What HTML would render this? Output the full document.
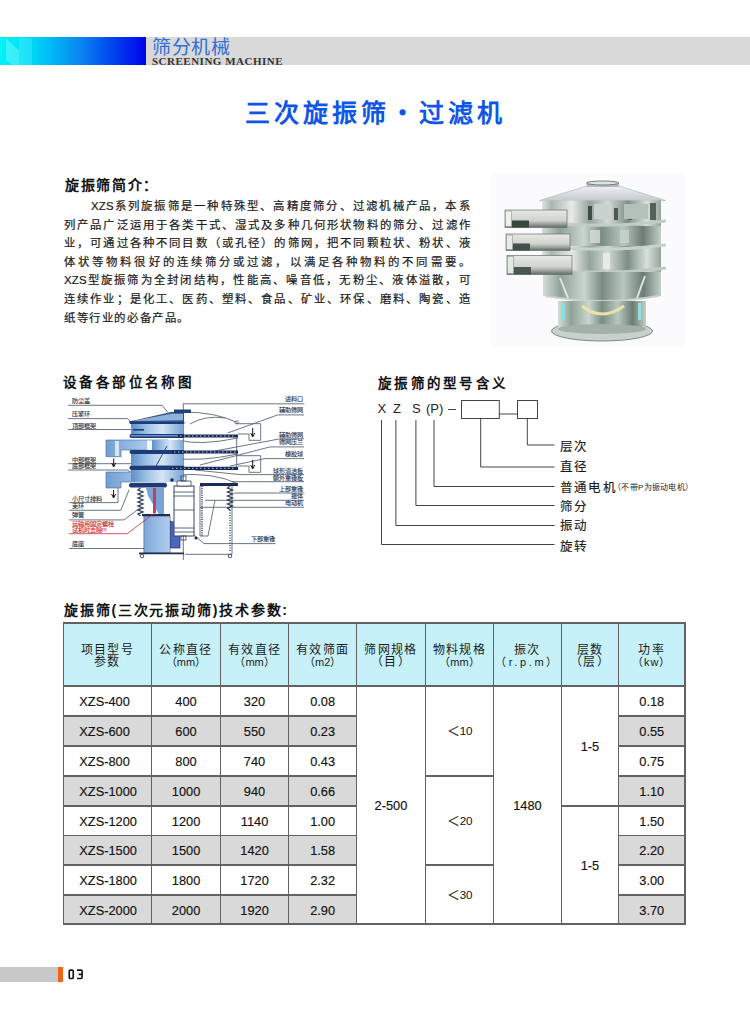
<!DOCTYPE html>
<html lang="zh-CN">
<head>
<meta charset="utf-8">
<style>
html,body{margin:0;padding:0;background:#fff;}
body{width:750px;height:1024px;position:relative;overflow:hidden;font-family:"Liberation Sans",sans-serif;color:#222;}
.abs{position:absolute;}
#hdr-grad{left:0;top:37px;width:147px;height:28px;background:linear-gradient(90deg,#00f2f8 0%,#00e4f8 15%,#00d0f8 25%,#00acf6 40%,#0a84f2 55%,#0048f0 75%,#0000ec 100%);}
#hdr-gray{left:146px;top:37px;width:604px;height:28px;background:#d9d9d9;}
#hdr-cn{left:152px;top:37px;font-size:19px;color:#2f6ed8;letter-spacing:0.5px;white-space:nowrap;line-height:22px;}
#hdr-en{left:152px;top:56px;font-family:"Liberation Serif",serif;font-size:11px;font-weight:bold;color:#333;letter-spacing:0.5px;white-space:nowrap;line-height:10px;}
#title{left:245px;top:98px;font-size:25px;font-weight:bold;color:#0f56e8;letter-spacing:4px;white-space:nowrap;line-height:30px;}
.h2{font-size:13px;font-weight:bold;color:#111;white-space:nowrap;line-height:16px;}
#intro-h{left:65px;top:176.5px;letter-spacing:1.7px;font-size:14px;}
.para{left:64px;width:407px;font-size:11.4px;line-height:18.6px;color:#1a1a1a;letter-spacing:1.3px;-webkit-text-stroke:0.2px #1a1a1a;}
.para div{text-align:justify;text-align-last:justify;white-space:nowrap;height:18.6px;}
.td{display:flex;align-items:center;justify-content:center;font-size:12.8px;color:#111;white-space:nowrap;padding-top:1px;box-sizing:border-box;-webkit-text-stroke:0.15px #111;}
.th{display:flex;align-items:center;justify-content:center;font-size:12px;line-height:12.3px;color:#1a1a1a;letter-spacing:1.3px;text-align:center;white-space:nowrap;padding-top:3px;box-sizing:border-box;}
.ln{background:#626262;}
.c1{justify-content:flex-start;padding-left:16px;}
.sm{font-size:11px;letter-spacing:0;}
#ftr-gray{left:0;top:967px;width:58px;height:15px;background:#c8c8cb;}
#ftr-or{left:57.5px;top:966.5px;width:5.5px;height:15.5px;background:#f26412;}
#ftr-num{left:68px;top:965px;font-size:14px;font-weight:bold;color:#222;line-height:18px;}
</style>
</head>
<body>
<div id="hdr-grad" class="abs"></div>
<div id="hdr-gray" class="abs"></div>
<svg class="abs" style="left:0;top:37px" width="40" height="28" viewBox="0 37 40 28"><path d="M6 38 L12 44 L19 50 L19 65 L12 65 L6 60 Z" fill="#fff" opacity="0.22"/><rect x="19" y="38" width="13" height="27" fill="#fff" opacity="0.12"/></svg>
<div id="hdr-cn" class="abs">筛分机械</div>
<div id="hdr-en" class="abs">SCREENING MACHINE</div>
<div id="title" class="abs">三次旋振筛<span style="display:inline-block;width:29px;text-align:center;letter-spacing:0;position:relative;left:-2px">・</span>过滤机</div>

<div id="intro-h" class="abs h2">旋振筛简介：</div>
<div class="abs para" style="top:197px;">
<div style="padding-left:27px"><span style="letter-spacing:0.2px">XZS</span>系列旋振筛是一种特殊型、高精度筛分、过滤机械产品，本系</div>
<div>列产品广泛运用于各类干式、湿式及多种几何形状物料的筛分、过滤作</div>
<div>业，可通过各种不同目数（或孔径）的筛网，把不同颗粒状、粉状、液</div>
<div>体状等物料很好的连续筛分或过滤，以满足各种物料的不同需要。</div>
<div><span style="letter-spacing:0.2px">XZS</span>型旋振筛为全封闭结构，性能高、噪音低，无粉尘、液体溢散，可</div>
<div>连续作业；是化工、医药、塑料、食品、矿业、环保、磨料、陶瓷、造</div>
<div style="text-align-last:left;letter-spacing:1.6px">纸等行业的必备产品。</div>
</div>


<div class="abs" style="left:491px;top:173px;width:195px;height:174px;background:#fbfafd;"></div>
<svg class="abs" style="left:490px;top:173px" width="196" height="174" viewBox="490 173 196 174">
<defs>
<linearGradient id="met" x1="0" x2="1" y1="0" y2="0">
<stop offset="0" stop-color="#dfe5e2"/><stop offset="0.08" stop-color="#a9b6af"/><stop offset="0.25" stop-color="#e6ebe8"/><stop offset="0.4" stop-color="#94a49b"/><stop offset="0.55" stop-color="#d2dbd6"/><stop offset="0.72" stop-color="#7d8f85"/><stop offset="0.88" stop-color="#d8e0dc"/><stop offset="1" stop-color="#95a49c"/>
</linearGradient>
<linearGradient id="met2" x1="0" x2="1" y1="0" y2="0">
<stop offset="0" stop-color="#d4ddd8"/><stop offset="0.15" stop-color="#8fa297"/><stop offset="0.35" stop-color="#cad6cf"/><stop offset="0.5" stop-color="#7a8d82"/><stop offset="0.68" stop-color="#b8c7bf"/><stop offset="0.85" stop-color="#6b7d73"/><stop offset="1" stop-color="#c4d0c9"/>
</linearGradient>
<linearGradient id="lid" x1="0" x2="0" y1="0" y2="1">
<stop offset="0" stop-color="#eef1f3"/><stop offset="1" stop-color="#c4cacd"/>
</linearGradient>
<linearGradient id="arm" x1="0" x2="0" y1="0" y2="1">
<stop offset="0" stop-color="#e6e8e4"/><stop offset="0.6" stop-color="#cfd3cd"/><stop offset="0.8" stop-color="#9aa39c"/><stop offset="1" stop-color="#5e6a62"/>
</linearGradient>
</defs>
<!-- lid -->
<path d="M539.6 200.5 L587 186 L619 186 L665.6 200.5 Z" fill="url(#lid)" stroke="#a8b0b4" stroke-width="0.6"/>
<rect x="586.5" y="182.5" width="32.5" height="4.5" fill="#b4bcc0"/>
<ellipse cx="602.7" cy="183" rx="16.2" ry="2" fill="#dde2e4" stroke="#6a7478" stroke-width="0.9"/>
<!-- upper body -->
<rect x="542" y="200.5" width="119" height="72" fill="url(#met)"/>
<rect x="588" y="206" width="4" height="14" fill="#3f4c45"/>
<rect x="614" y="208" width="4" height="12" fill="#4c5a52"/><rect x="628" y="210" width="4" height="10" fill="#4c5a52"/>
<rect x="650" y="203" width="6" height="17" fill="#55625b"/>
<rect x="594" y="204" width="18" height="15" fill="#c9d2ce"/>
<rect x="624" y="204" width="24" height="15" fill="#b4c0ba"/>
<rect x="542" y="226" width="119" height="20" fill="url(#met2)"/>
<rect x="590" y="230" width="10" height="13" fill="#d6ddd9" opacity="0.8"/>
<rect x="620" y="230" width="9" height="13" fill="#cdd6d1" opacity="0.7"/>
<rect x="603" y="253" width="7" height="16" fill="#e8eeea" opacity="0.9"/>
<path d="M540 222 Q603 229 666 221" fill="none" stroke="#c2ccc7" stroke-width="2.8"/>
<path d="M540 246 Q603 253 666 245" fill="none" stroke="#c8d2cd" stroke-width="2.8"/>
<path d="M540 269 Q603 276 666 268" fill="none" stroke="#c0cbc5" stroke-width="2.8"/>
<!-- lower body -->
<path d="M543 272 L661 272 L661 296 Q602 306 543 296 Z" fill="url(#met2)"/>
<path d="M546 296 Q602 306 658 296" fill="none" stroke="#c7d0cb" stroke-width="2"/>
<path d="M560 278 L568 298" stroke="#dde6e1" stroke-width="2"/>
<path d="M645 276 L637 298" stroke="#dce4e0" stroke-width="2"/>
<!-- base -->
<ellipse cx="602" cy="331" rx="50.5" ry="10" fill="#c9d1cd" stroke="#7d8a83" stroke-width="1"/>
<rect x="558" y="301" width="88" height="28" fill="url(#met2)"/>
<ellipse cx="602" cy="329" rx="44" ry="5" fill="#a2b0a8"/>
<path d="M582 306 Q602 322 624 306" fill="none" stroke="#ece2a8" stroke-width="3"/>
<rect x="562" y="303" width="3" height="17" fill="#84e2e2" opacity="0.85"/>
<rect x="638" y="303" width="3" height="17" fill="#94e8e8" opacity="0.85"/>
<!-- arms (front) -->
<rect x="505" y="210" width="62" height="17.5" fill="url(#arm)" stroke="#6a746e" stroke-width="0.7"/>
<rect x="505.5" y="211" width="6" height="15.5" fill="#eef0ec" stroke="#7b847e" stroke-width="0.5"/>
<rect x="512" y="220.5" width="17" height="7" fill="#3a4640"/>
<rect x="506" y="234" width="64" height="16.5" fill="url(#arm)" stroke="#6a746e" stroke-width="0.7"/>
<rect x="506.5" y="235" width="6" height="14.5" fill="#e8ebe8" stroke="#7b847e" stroke-width="0.5"/>
<rect x="513" y="243.5" width="17" height="7" fill="#44504a"/>
<rect x="507" y="255.5" width="65" height="19" fill="url(#arm)" stroke="#6a746e" stroke-width="0.7"/>
<rect x="507.5" y="256.5" width="6" height="17" fill="#e4e8e4" stroke="#7b847e" stroke-width="0.5"/>
<rect x="514" y="267" width="17" height="7.5" fill="#4a564f"/>
</svg>


<div class="abs h2" style="left:63px;top:375px;letter-spacing:3.4px;font-size:13.5px;">设备各部位名称图</div>
<svg class="abs" style="left:60px;top:392px" width="260" height="172" viewBox="60 392 260 172">
<defs>
<linearGradient id="bl" x1="0" x2="1" y1="0" y2="0">
<stop offset="0" stop-color="#5f8fc8"/><stop offset="0.35" stop-color="#a8c8ea"/><stop offset="0.6" stop-color="#d6e6f6"/><stop offset="1" stop-color="#7aa6d6"/>
</linearGradient>
<linearGradient id="bl2" x1="0" x2="1" y1="0" y2="0">
<stop offset="0" stop-color="#6f9ed4"/><stop offset="0.5" stop-color="#9fc0e6"/><stop offset="1" stop-color="#c6dcf2"/>
</linearGradient>
</defs>
<g fill="none" stroke="#5a6678" stroke-width="0.9">
<!-- left leader lines -->
<path d="M68 405.3 H162 L168 412.5"/>
<path d="M68 418.6 H127.6 L131 422"/>
<path d="M68 429.5 H143"/>
<path d="M68 463.7 H133"/>
<path d="M68 470 H127.6 L133 474"/>
<path d="M69 502.6 H118 V483"/>
<path d="M69 510.3 H120.8 L129 490"/>
<path d="M69 519.9 H124 L140 508"/>
<path d="M69 548.5 H151"/>
<!-- right leader lines -->
<path d="M183.3 403.8 H304.4"/>
<path d="M304 414.9 H277.7 L227.6 433"/>
<path d="M304 438.8 H280 L215 451"/>
<path d="M304 446.9 H270 L200 465"/>
<path d="M304 458.6 H265 L230 466"/>
<path d="M304 474.6 H240 L195 470"/>
<path d="M304 481.7 H232"/>
<path d="M304.4 493 H234"/>
<path d="M304 500.3 H205"/>
<path d="M304 507.3 H200"/>
<path d="M275.6 543.6 H204 L194 535"/>
<!-- axis -->
<path d="M183.3 403.3 V560" stroke-width="0.9"/>
<!-- dome -->
<path d="M183 412 Q215 412 236.7 422.3" />
<path d="M190 424 Q205 415 225 418"/>
<!-- right boxes -->
<path d="M236 423.7 H260.7 V440.3 H249 V434 H238"/>
<path d="M236 455.7 H260.7 V472.3 H249 V466 H238"/>
<path d="M236.7 438 V470"/>
<!-- curves inside -->
<path d="M178 440 Q200 446 238 438"/>
<path d="M172 458 Q200 462 238 454"/>
<path d="M175 475 Q215 472 238 484"/>
<!-- bracket right -->
<path d="M200 486 V536 L208 536 L215 500"/>
<path d="M232 484 V554"/>
<path d="M185 554.3 H232"/>
</g>
<circle cx="236.7" cy="422.3" r="1.6" fill="none" stroke="#3c4a60" stroke-width="0.7"/>
<!-- arrows in boxes -->
<path d="M252.7 428 V436 M250.7 433 L252.7 437 L254.7 433" stroke="#111" stroke-width="1" fill="none"/>
<path d="M252.7 460 V468 M250.7 465 L252.7 469 L254.7 465" stroke="#111" stroke-width="1" fill="none"/>
<path d="M113.7 458.5 V466 M111.7 463 L113.7 467 L115.7 463" stroke="#111" stroke-width="1" fill="none"/>
<path d="M113.6 490 V497 M111.6 494 L113.6 498 L115.6 494" stroke="#111" stroke-width="1" fill="none"/>
<!-- lid -->
<path d="M129.3 422 L171 412.5 L183.3 412.5 L183.3 423 Z" fill="#4a6fa8" stroke="#1e3460" stroke-width="0.8"/>
<path d="M132 421 L171 414 L183 414 L183 420 Z" fill="#8fb2dc"/>
<rect x="174" y="409.5" width="17" height="3.5" fill="#21407a"/>
<!-- top frame -->
<rect x="131" y="423" width="52" height="11.5" fill="url(#bl)"/>
<rect x="129.5" y="421.5" width="55" height="2.5" fill="#1e3a78" rx="1"/>
<rect x="129.5" y="434" width="55" height="4" fill="#1e3a78" rx="2"/>
<rect x="131" y="435" width="52" height="1.5" fill="#6a92c8"/>
<!-- upper spout -->
<path d="M106 440 H168 V450 H121 V456.7 H106 Z" fill="url(#bl2)" stroke="#456a9c" stroke-width="0.6"/>
<rect x="115" y="441" width="4" height="15" fill="#e8f0f8" opacity="0.85"/><rect x="147" y="440.5" width="5" height="9.5" fill="#f4f8fc"/>
<!-- mid frame -->
<rect x="131" y="454" width="52" height="11.5" fill="url(#bl)"/>
<rect x="129.5" y="450" width="55" height="4" fill="#1e3a78" rx="2"/>
<rect x="129.5" y="465.4" width="55" height="4.5" fill="#1e3a78" rx="2"/>
<rect x="152" y="440" width="31" height="10" fill="url(#bl)"/><path d="M167 446 L156 466" stroke="#1e3a78" stroke-width="0.9"/><rect x="133" y="429" width="11" height="1.6" fill="#1e3a78"/>
<!-- lower spout -->
<path d="M106 472 H166 V482 H121 V488 H106 Z" fill="url(#bl2)" stroke="#456a9c" stroke-width="0.6"/>
<rect x="131" y="470" width="52" height="12" fill="url(#bl)"/>
<rect x="129" y="483" width="38" height="4.5" fill="#1e3a78" rx="2"/>
<!-- screens right -->
<g stroke="#142a58" stroke-width="3.2">
<path d="M178 436 H238"/><path d="M172 452 H238"/><path d="M170 468.3 H238"/>
<path d="M200 485 H238" stroke-width="2"/>
</g>
<g stroke="#c8d8ee" stroke-width="0.9" stroke-dasharray="1.5 2.5">
<path d="M180 436 H236"/><path d="M174 452 H236"/><path d="M172 468.3 H236"/>
</g>
<!-- springs -->
<path d="M140.5 488 l-2.5 2 l5 2 l-5 2 l5 2 l-5 2 l5 2 l-5 2 l5 2 l-5 2 l5 2 l-5 2 l5 2 l-5 2 l2.5 2" fill="none" stroke="#2b3a55" stroke-width="1.3"/>
<path d="M230 486 l-2.5 2 l5 2 l-5 2 l5 2 l-5 2 l5 2 l-5 2 l5 2 l-5 2 l5 2 l-5 2 l2.5 2" fill="none" stroke="#2b3a55" stroke-width="1.3"/>
<path d="M202 486 V536" stroke="#2b3a55" stroke-width="1.6" stroke-dasharray="1 1.2"/>
<path d="M230 510 V552" stroke="#2b3a55" stroke-width="1.4" stroke-dasharray="1 1.5"/>
<!-- inner pipe -->
<path d="M146 488 H164 V516 H160 L148 496 Z" fill="#7aa4d6"/>
<rect x="153" y="488" width="3" height="25" fill="#c04060"/>
<!-- base -->
<rect x="144" y="516" width="26" height="37" fill="#8fb4e0" stroke="#2b3a55" stroke-width="0.7"/>
<rect x="144" y="516" width="26" height="37" fill="url(#bl2)" opacity="0.6"/>
<path d="M170.5 521 L176 523 V530 L180 536 V548 L170.5 548 Z" fill="#4a66c0" stroke="#1e2e70" stroke-width="0.7"/>
<rect x="142" y="514" width="28" height="2.2" fill="#1e2e50"/>
<path d="M139 553.3 H184" stroke="#1e2e50" stroke-width="1.8"/>
<circle cx="142" cy="556" r="1.8" fill="none" stroke="#1e2e50" stroke-width="0.8"/>
<circle cx="230" cy="556" r="1.8" fill="none" stroke="#1e2e50" stroke-width="0.8"/>
<!-- motor -->
<rect x="174" y="486" width="20" height="50" fill="#fff" stroke="#34445e" stroke-width="1"/>
<path d="M174 492 H194 M174 496 H194 M174 510 H194 M174 528 H194 M174 532 H194" stroke="#34445e" stroke-width="0.8"/>
<path d="M177 481 H191 V486 H177 Z" fill="#fff" stroke="#34445e" stroke-width="0.8"/>
<rect x="181" y="476" width="5" height="5" fill="none" stroke="#34445e" stroke-width="0.8"/>
<rect x="181" y="536" width="5" height="4" fill="none" stroke="#34445e" stroke-width="0.8"/>
<circle cx="172" cy="480" r="1.8" fill="#1e2e50"/>
<circle cx="196" cy="538" r="1.6" fill="#1e2e50"/>
<path d="M200 484 H238" stroke="#1e2e50" stroke-width="2"/>
<!-- red leader -->
<path d="M69 533.7 H127.2 L155 512.7" fill="none" stroke="#c03040" stroke-width="0.8"/>
<!-- labels -->
<g font-size="6.2" fill="#2c3548" font-family="Liberation Sans, sans-serif" stroke="#2c3548" stroke-width="0.12">
<text x="71.5" y="403.1">防尘盖</text>
<text x="71.5" y="416.1">压紧环</text>
<text x="71.5" y="428.0">顶部框架</text>
<text x="71.5" y="461.8">中部框架</text>
<text x="71.5" y="468.0">底部框架</text>
<text x="71.5" y="500.9">小尺寸排料</text>
<text x="71.5" y="507.9">束环</text>
<text x="71.5" y="516.9">弹簧</text>
<text x="71.5" y="545.7">底座</text>
<text x="302.5" y="400.8" text-anchor="end">进料口</text>
<text x="302.5" y="411.9" text-anchor="end">辅助筛网</text>
<text x="302.5" y="436.5" text-anchor="end">辅助筛网</text>
<text x="302.5" y="443.9" text-anchor="end">筛网压兰</text>
<text x="302.5" y="455.7" text-anchor="end">橡胶球</text>
<text x="302.5" y="472.8" text-anchor="end">球形清洁板</text>
<text x="302.5" y="479.9" text-anchor="end">额外重锤板</text>
<text x="302.5" y="490.5" text-anchor="end">上部重锤</text>
<text x="302.5" y="498.0" text-anchor="end">振体</text>
<text x="302.5" y="505.0" text-anchor="end">电动机</text>
<text x="275" y="540.7" text-anchor="end">下部重锤</text>
</g>
<g font-size="6.2" fill="#d02030" font-family="Liberation Sans, sans-serif" stroke="#d02030" stroke-width="0.12">
<text x="71.5" y="526">运输用固定螺栓</text>
<text x="71.5" y="532">试机时去除!!!</text>
</g>
</svg>


<div class="abs h2" style="left:378px;top:376px;letter-spacing:3.3px;font-size:13.5px;">旋振筛的型号含义</div>
<svg class="abs" style="left:370px;top:395px" width="330" height="160" viewBox="370 395 330 160">
<g font-family="Liberation Sans, sans-serif" font-size="13" fill="#222">
<text x="377.5" y="412.7">X</text>
<text x="393" y="412.7">Z</text>
<text x="412" y="412.7">S</text>
<text x="426" y="412.7">(P)</text>
</g>
<g fill="none" stroke="#444" stroke-width="1">
<path d="M448 409.5 H456"/>
<rect x="461.5" y="400.5" width="37.8" height="18"/>
<rect x="517.5" y="400.5" width="20" height="18"/>
<path d="M499.3 414 H517.5"/>
<path d="M527.3 418.5 V445 H554.5"/>
<path d="M480.7 418.5 V467 H554.5"/>
<path d="M434 420 V486.5 H554.5"/>
<path d="M415.9 420 V505.5 H554.5"/>
<path d="M395.9 420 V525.5 H554.5"/>
<path d="M381.5 420 V544.5 H554.5"/>
</g>
<g font-family="Liberation Sans, sans-serif" font-size="12.5" fill="#1a1a1a" letter-spacing="1.4" stroke="#1a1a1a" stroke-width="0.15">
<text x="559.5" y="450.5">层次</text>
<text x="559.5" y="471.3">直径</text>
<text x="559.5" y="491.7">普通电机</text>
<text x="559.5" y="511.3">筛分</text>
<text x="559.5" y="530.2">振动</text>
<text x="559.5" y="551.2">旋转</text>
</g>
<text x="613" y="490" font-family="Liberation Sans, sans-serif" font-size="8" fill="#222" letter-spacing="0.3">（不带P为振动电机）</text>
</svg>

<div class="abs h2" style="left:64px;top:602px;font-size:14px;letter-spacing:1.8px;">旋振筛(三次元振动筛)技术参数:</div>
<div class="abs" style="left:63.3px;top:623px;width:621.7px;height:63px;background:#c6f1f8;"></div>
<div class="abs" style="left:63.3px;top:716.0px;width:293.3px;height:30.0px;background:#d9d9d9;"></div>
<div class="abs" style="left:618.5px;top:716.0px;width:66.5px;height:30.0px;background:#d9d9d9;"></div>
<div class="abs" style="left:63.3px;top:776.0px;width:293.3px;height:30.0px;background:#d9d9d9;"></div>
<div class="abs" style="left:618.5px;top:776.0px;width:66.5px;height:30.0px;background:#d9d9d9;"></div>
<div class="abs" style="left:63.3px;top:835.5px;width:293.3px;height:29.5px;background:#d9d9d9;"></div>
<div class="abs" style="left:618.5px;top:835.5px;width:66.5px;height:29.5px;background:#d9d9d9;"></div>
<div class="abs" style="left:63.3px;top:895.0px;width:293.3px;height:29.0px;background:#d9d9d9;"></div>
<div class="abs" style="left:618.5px;top:895.0px;width:66.5px;height:29.0px;background:#d9d9d9;"></div>
<div class="abs th" style="left:63.3px;top:623.0px;width:88.4px;height:63.0px;"><span>项目型号<br>参数</span></div>
<div class="abs th" style="left:151.7px;top:623.0px;width:68.7px;height:63.0px;"><span>公称直径<br><span class="sm">（mm）</span></span></div>
<div class="abs th" style="left:220.4px;top:623.0px;width:68.3px;height:63.0px;"><span>有效直径<br><span class="sm">（mm）</span></span></div>
<div class="abs th" style="left:288.7px;top:623.0px;width:67.9px;height:63.0px;"><span>有效筛面<br><span class="sm">（m2）</span></span></div>
<div class="abs th" style="left:356.6px;top:623.0px;width:68.7px;height:63.0px;"><span>筛网规格<br>（目）</span></div>
<div class="abs th" style="left:425.3px;top:623.0px;width:68.3px;height:63.0px;"><span>物料规格<br><span class="sm">（mm）</span></span></div>
<div class="abs th" style="left:493.6px;top:623.0px;width:67.7px;height:63.0px;"><span>振次<br><span class="sm" style="letter-spacing:2.6px">（r.p.m）</span></span></div>
<div class="abs th" style="left:561.3px;top:623.0px;width:57.2px;height:63.0px;"><span>层数<br>（层）</span></div>
<div class="abs th" style="left:618.5px;top:623.0px;width:66.5px;height:63.0px;"><span>功率<br><span class="sm" style="letter-spacing:1px">（kw）</span></span></div>
<div class="abs td c1" style="left:63.3px;top:686.0px;width:88.4px;height:30.0px;">XZS-400</div>
<div class="abs td" style="left:151.7px;top:686.0px;width:68.7px;height:30.0px;">400</div>
<div class="abs td" style="left:220.4px;top:686.0px;width:68.3px;height:30.0px;">320</div>
<div class="abs td" style="left:288.7px;top:686.0px;width:67.9px;height:30.0px;">0.08</div>
<div class="abs td" style="left:618.5px;top:686.0px;width:66.5px;height:30.0px;">0.18</div>
<div class="abs td c1" style="left:63.3px;top:716.0px;width:88.4px;height:30.0px;">XZS-600</div>
<div class="abs td" style="left:151.7px;top:716.0px;width:68.7px;height:30.0px;">600</div>
<div class="abs td" style="left:220.4px;top:716.0px;width:68.3px;height:30.0px;">550</div>
<div class="abs td" style="left:288.7px;top:716.0px;width:67.9px;height:30.0px;">0.23</div>
<div class="abs td" style="left:618.5px;top:716.0px;width:66.5px;height:30.0px;">0.55</div>
<div class="abs td c1" style="left:63.3px;top:746.0px;width:88.4px;height:30.0px;">XZS-800</div>
<div class="abs td" style="left:151.7px;top:746.0px;width:68.7px;height:30.0px;">800</div>
<div class="abs td" style="left:220.4px;top:746.0px;width:68.3px;height:30.0px;">740</div>
<div class="abs td" style="left:288.7px;top:746.0px;width:67.9px;height:30.0px;">0.43</div>
<div class="abs td" style="left:618.5px;top:746.0px;width:66.5px;height:30.0px;">0.75</div>
<div class="abs td c1" style="left:63.3px;top:776.0px;width:88.4px;height:30.0px;">XZS-1000</div>
<div class="abs td" style="left:151.7px;top:776.0px;width:68.7px;height:30.0px;">1000</div>
<div class="abs td" style="left:220.4px;top:776.0px;width:68.3px;height:30.0px;">940</div>
<div class="abs td" style="left:288.7px;top:776.0px;width:67.9px;height:30.0px;">0.66</div>
<div class="abs td" style="left:618.5px;top:776.0px;width:66.5px;height:30.0px;">1.10</div>
<div class="abs td c1" style="left:63.3px;top:806.0px;width:88.4px;height:29.5px;">XZS-1200</div>
<div class="abs td" style="left:151.7px;top:806.0px;width:68.7px;height:29.5px;">1200</div>
<div class="abs td" style="left:220.4px;top:806.0px;width:68.3px;height:29.5px;">1140</div>
<div class="abs td" style="left:288.7px;top:806.0px;width:67.9px;height:29.5px;">1.00</div>
<div class="abs td" style="left:618.5px;top:806.0px;width:66.5px;height:29.5px;">1.50</div>
<div class="abs td c1" style="left:63.3px;top:835.5px;width:88.4px;height:29.5px;">XZS-1500</div>
<div class="abs td" style="left:151.7px;top:835.5px;width:68.7px;height:29.5px;">1500</div>
<div class="abs td" style="left:220.4px;top:835.5px;width:68.3px;height:29.5px;">1420</div>
<div class="abs td" style="left:288.7px;top:835.5px;width:67.9px;height:29.5px;">1.58</div>
<div class="abs td" style="left:618.5px;top:835.5px;width:66.5px;height:29.5px;">2.20</div>
<div class="abs td c1" style="left:63.3px;top:865.0px;width:88.4px;height:30.0px;">XZS-1800</div>
<div class="abs td" style="left:151.7px;top:865.0px;width:68.7px;height:30.0px;">1800</div>
<div class="abs td" style="left:220.4px;top:865.0px;width:68.3px;height:30.0px;">1720</div>
<div class="abs td" style="left:288.7px;top:865.0px;width:67.9px;height:30.0px;">2.32</div>
<div class="abs td" style="left:618.5px;top:865.0px;width:66.5px;height:30.0px;">3.00</div>
<div class="abs td c1" style="left:63.3px;top:895.0px;width:88.4px;height:29.0px;">XZS-2000</div>
<div class="abs td" style="left:151.7px;top:895.0px;width:68.7px;height:29.0px;">2000</div>
<div class="abs td" style="left:220.4px;top:895.0px;width:68.3px;height:29.0px;">1920</div>
<div class="abs td" style="left:288.7px;top:895.0px;width:67.9px;height:29.0px;">2.90</div>
<div class="abs td" style="left:618.5px;top:895.0px;width:66.5px;height:29.0px;">3.70</div>
<div class="abs td" style="left:356.6px;top:686.0px;width:68.7px;height:238.0px;">2-500</div>
<div class="abs td" style="left:425.3px;top:686.0px;width:68.3px;height:90.0px;"><span style="position:relative;top:-2px">＜<span style="font-size:11.6px;letter-spacing:-0.3px;-webkit-text-stroke:0">10</span></span></div>
<div class="abs td" style="left:425.3px;top:776.0px;width:68.3px;height:89.0px;"><span style="position:relative;top:-2px">＜<span style="font-size:11.6px;letter-spacing:-0.3px;-webkit-text-stroke:0">20</span></span></div>
<div class="abs td" style="left:425.3px;top:865.0px;width:68.3px;height:59.0px;"><span style="position:relative;top:-2px">＜<span style="font-size:11.6px;letter-spacing:-0.3px;-webkit-text-stroke:0">30</span></span></div>
<div class="abs td" style="left:493.6px;top:686.0px;width:67.7px;height:238.0px;">1480</div>
<div class="abs td" style="left:561.3px;top:686.0px;width:57.2px;height:120.0px;">1-5</div>
<div class="abs td" style="left:561.3px;top:806.0px;width:57.2px;height:118.0px;">1-5</div>
<div class="abs ln" style="left:62.75px;top:622.45px;width:1.1px;height:302.1px;"></div>
<div class="abs ln" style="left:151.15px;top:622.45px;width:1.1px;height:302.1px;"></div>
<div class="abs ln" style="left:219.85px;top:622.45px;width:1.1px;height:302.1px;"></div>
<div class="abs ln" style="left:288.15px;top:622.45px;width:1.1px;height:302.1px;"></div>
<div class="abs ln" style="left:356.05px;top:622.45px;width:1.1px;height:302.1px;"></div>
<div class="abs ln" style="left:424.75px;top:622.45px;width:1.1px;height:302.1px;"></div>
<div class="abs ln" style="left:493.05px;top:622.45px;width:1.1px;height:302.1px;"></div>
<div class="abs ln" style="left:560.75px;top:622.45px;width:1.1px;height:302.1px;"></div>
<div class="abs ln" style="left:617.95px;top:622.45px;width:1.1px;height:302.1px;"></div>
<div class="abs ln" style="left:684.45px;top:622.45px;width:1.1px;height:302.1px;"></div>
<div class="abs ln" style="left:62.75px;top:622.45px;width:622.8px;height:1.1px;"></div>
<div class="abs ln" style="left:62.75px;top:685.45px;width:622.8px;height:1.1px;"></div>
<div class="abs ln" style="left:62.75px;top:923.45px;width:622.8px;height:1.1px;"></div>
<div class="abs ln" style="left:62.75px;top:715.45px;width:294.4px;height:1.1px;"></div>
<div class="abs ln" style="left:617.95px;top:715.45px;width:67.6px;height:1.1px;"></div>
<div class="abs ln" style="left:62.75px;top:745.45px;width:294.4px;height:1.1px;"></div>
<div class="abs ln" style="left:617.95px;top:745.45px;width:67.6px;height:1.1px;"></div>
<div class="abs ln" style="left:62.75px;top:775.45px;width:294.4px;height:1.1px;"></div>
<div class="abs ln" style="left:617.95px;top:775.45px;width:67.6px;height:1.1px;"></div>
<div class="abs ln" style="left:62.75px;top:805.45px;width:294.4px;height:1.1px;"></div>
<div class="abs ln" style="left:617.95px;top:805.45px;width:67.6px;height:1.1px;"></div>
<div class="abs ln" style="left:62.75px;top:834.95px;width:294.4px;height:1.1px;"></div>
<div class="abs ln" style="left:617.95px;top:834.95px;width:67.6px;height:1.1px;"></div>
<div class="abs ln" style="left:62.75px;top:864.45px;width:294.4px;height:1.1px;"></div>
<div class="abs ln" style="left:617.95px;top:864.45px;width:67.6px;height:1.1px;"></div>
<div class="abs ln" style="left:62.75px;top:894.45px;width:294.4px;height:1.1px;"></div>
<div class="abs ln" style="left:617.95px;top:894.45px;width:67.6px;height:1.1px;"></div>
<div class="abs ln" style="left:424.75px;top:775.45px;width:69.4px;height:1.1px;"></div>
<div class="abs ln" style="left:424.75px;top:864.45px;width:69.4px;height:1.1px;"></div>
<div class="abs ln" style="left:560.75px;top:805.45px;width:58.3px;height:1.1px;"></div>
<div id="ftr-gray" class="abs"></div><div id="ftr-or" class="abs"></div><svg class="abs" style="left:60px;top:960px" width="30" height="30" viewBox="60 960 30 30"><g fill="none" stroke="#151515" stroke-width="1.65"><rect x="69.25" y="970.1" width="4" height="8.4" rx="1.1"/><path d="M77 970.1 H81.2 Q82.1 970.1 82.1 971 V977.6 Q82.1 978.5 81.2 978.5 H77 M78.6 974.3 H82"/></g></svg>
</body>
</html>
